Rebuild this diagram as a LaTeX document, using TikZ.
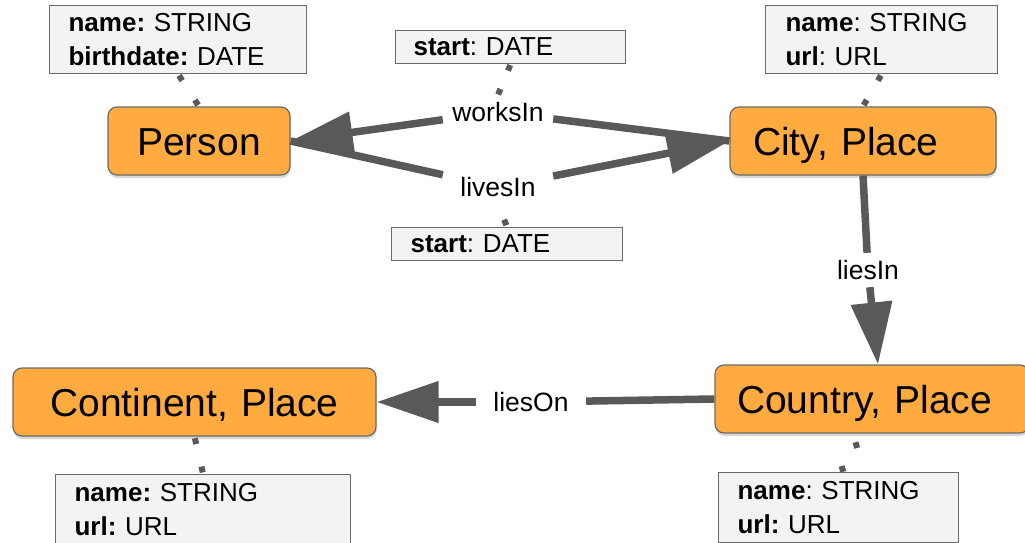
\documentclass[tikz,border=0pt]{standalone}
\usepackage{fontspec}
\setmainfont{Liberation Sans}
\frenchspacing
\usetikzlibrary{arrows.meta,shadows}
\definecolor{edgegray}{HTML}{595959}
\definecolor{boxorange}{HTML}{FFAB40}
\definecolor{propfill}{HTML}{F3F3F5}
\begin{document}
\begin{tikzpicture}[x=1pt,y=-1pt,
    entity/.style={draw=edgegray!90,line width=1.2pt,fill=boxorange,rounded corners=9pt,
      minimum height=68pt,inner ysep=0pt,text height=28pt,text depth=0pt,
      font=\fontsize{39}{45}\selectfont,
      drop shadow={shadow xshift=0.5pt,shadow yshift=-3pt,opacity=0.3}},
    prop/.style={draw=edgegray!90,line width=1.2pt,fill=propfill,anchor=north west,
      align=left,inner ysep=0pt,inner xsep=19pt,font=\fontsize{26}{34}\selectfont},
    rellabel/.style={fill=white,inner sep=0pt,minimum width=110pt,minimum height=34pt,
      font=\fontsize{26.5}{30}\selectfont},
    rel/.style={draw=edgegray,line width=7.5pt},
    tip/.style={-{Triangle[length=62pt,width=40pt]}},
    linksq/.style={fill=edgegray,inner sep=0pt,minimum size=6pt,sloped}]
      \useasboundingbox (0,0) rectangle (1025,543);%

      \node[entity,text width=152pt,inner xsep=15pt,align=center] (Person) at (199,141) {Person};%
      \node[entity,text width=220pt,inner xsep=23pt,align=left] (City) at (863,141) {City, Place};%
      \node[entity,text width=270pt,inner xsep=22pt,align=left] (Country) at (872,399) {Country, Place};%
      \node[entity,text width=333pt,inner xsep=15pt,align=center] (Continent) at (194.5,402) {Continent, Place};%

      \node[prop,text width=219pt,minimum height=68pt] (pp) at (49,5)
      {\textbf{name:} STRING\\\textbf{birthdate:} DATE};%
      \node[prop,text width=192pt,inner xsep=20pt,minimum height=68pt] (cp) at (765,5)
      {\textbf{name}: STRING\\\textbf{url}: URL};%
      \node[prop,text width=194pt,inner xsep=18pt,minimum height=33pt] (ws) at (395,30)
      {\textbf{start}: DATE};%
      \node[prop,text width=193pt,minimum height=33pt] (ls) at (391,227)
      {\textbf{start}: DATE};%
      \node[prop,text width=257pt,minimum height=70pt] (np) at (55,474)
      {\textbf{name:} STRING\\\textbf{url:} URL};%
      \node[prop,text width=202pt,minimum height=70pt] (kp) at (718,472)
      {\textbf{name}: STRING\\\textbf{url:} URL};%

      \node[rellabel] (wl) at (498,112) {worksIn};%
      \node[rellabel] (ll) at (498,187) {livesIn};%
      \node[rellabel] (li) at (868,270) {liesIn};%
      \node[rellabel] (lo) at (531,402) {liesOn};%

      \draw[rel] (wl) -- (City.west);%
      \draw[rel,tip] (wl) -- (Person.east);%
      \draw[rel] (ll) -- (Person.east);%
      \draw[rel,tip] (ll) -- (City.west);%
      \draw[rel] (City.south) -- (li);%
      \draw[rel,tip] (li) -- ([xshift=6pt]Country.north);%
      \draw[rel] (Country.west) -- (lo);%
      \draw[rel,tip] (lo) -- (Continent.east);%

      % property links: one small square near each end
      \path (pp.south) -- (Person.north) node[linksq,pos=0.12] (pq1) {} node[linksq,pos=0.88] (pq2) {};%
      \path (cp.south) -- (City.north) node[linksq,pos=0.12] (cq1) {} node[linksq,pos=0.88] (cq2) {};%
      \path (ws.south) -- (wl.north) node[linksq,pos=0.12] (wq1) {} node[linksq,pos=0.9] (wq2) {};%
      \path (ls.north) -- (ll.south) node[linksq,pos=0.2] (lq1) {};%
      \path (Continent.south) -- (np.north) node[linksq,pos=0.12] (nq1) {} node[linksq,pos=0.88] (nq2) {};%
      \path ([xshift=-9pt]Country.south) -- ([xshift=2pt]kp.north)
        node[linksq,rotate=45,pos=0.3] (kq1) {} node[linksq,rotate=45,pos=0.92] (kq2) {};%
    \end{tikzpicture}
\end{document}
